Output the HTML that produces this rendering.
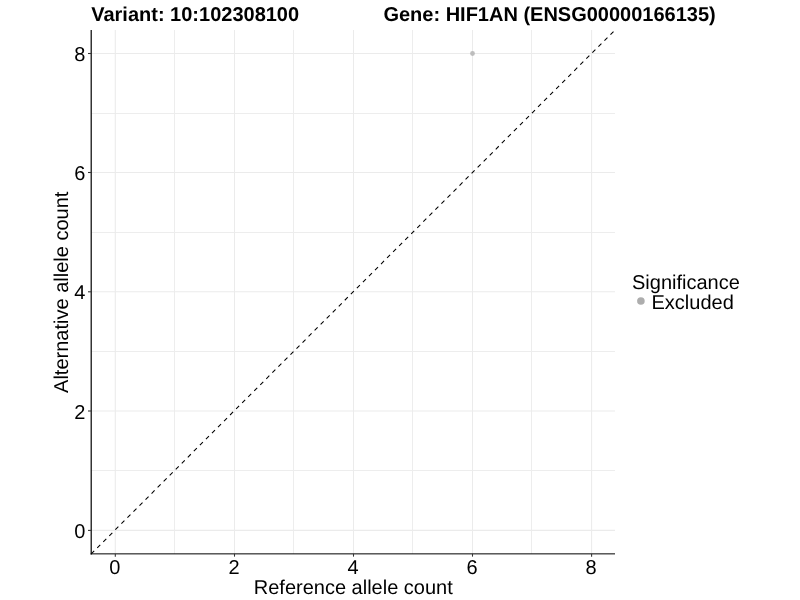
<!DOCTYPE html>
<html><head><meta charset="utf-8"><title>plot</title>
<style>
html,body{margin:0;padding:0;background:#fff;width:800px;height:600px;overflow:hidden}
svg{display:block;will-change:transform}
text{font-family:"Liberation Sans",Arial,Helvetica,sans-serif;font-size:20px;fill:#000;text-rendering:geometricPrecision}
.gm{stroke:#ededed;stroke-width:1}
.gM{stroke:#ebebeb;stroke-width:1.07}
.ax{stroke:#000;stroke-linecap:butt}
.tk{stroke:#333;stroke-width:1.07}
</style></head><body>
<svg width="800" height="600" viewBox="0 0 800 600">
<rect width="800" height="600" fill="#fff"/>
<line x1="174.5" y1="30.0" x2="174.5" y2="553.9" class="gm"/>
<line x1="293.5" y1="30.0" x2="293.5" y2="553.9" class="gm"/>
<line x1="412.5" y1="30.0" x2="412.5" y2="553.9" class="gm"/>
<line x1="531.5" y1="30.0" x2="531.5" y2="553.9" class="gm"/>
<line x1="91.2" y1="470.5" x2="615.0" y2="470.5" class="gm"/>
<line x1="91.2" y1="351.5" x2="615.0" y2="351.5" class="gm"/>
<line x1="91.2" y1="232.5" x2="615.0" y2="232.5" class="gm"/>
<line x1="91.2" y1="113.5" x2="615.0" y2="113.5" class="gm"/>
<line x1="115.3" y1="30.0" x2="115.3" y2="553.9" class="gM"/>
<line x1="234.5" y1="30.0" x2="234.5" y2="553.9" class="gM"/>
<line x1="353.5" y1="30.0" x2="353.5" y2="553.9" class="gM"/>
<line x1="472.5" y1="30.0" x2="472.5" y2="553.9" class="gM"/>
<line x1="591.6" y1="30.0" x2="591.6" y2="553.9" class="gM"/>
<line x1="91.2" y1="530.4" x2="615.0" y2="530.4" class="gM"/>
<line x1="91.2" y1="411.0" x2="615.0" y2="411.0" class="gM"/>
<line x1="91.2" y1="291.8" x2="615.0" y2="291.8" class="gM"/>
<line x1="91.2" y1="172.5" x2="615.0" y2="172.5" class="gM"/>
<line x1="91.2" y1="53.5" x2="615.0" y2="53.5" class="gM"/>
<circle cx="472.5" cy="53.5" r="2.4" fill="#bdbdbd"/>
<line x1="91.2" y1="553.9" x2="615.0" y2="30.0" stroke="#000" stroke-width="1.07" stroke-dasharray="4.27 4.27"/>
<line x1="91.2" y1="30.0" x2="91.2" y2="554.4499999999999" class="ax" stroke-width="1.2"/>
<line x1="90.60000000000001" y1="553.87" x2="615.0" y2="553.87" class="ax" stroke-width="1.0"/>
<line x1="88.00" y1="530.4" x2="91.20" y2="530.4" class="tk"/>
<line x1="115.3" y1="553.90" x2="115.3" y2="556.65" class="tk"/>
<text x="85.40" y="538.00" text-anchor="end">0</text>
<text x="114.85" y="573.7" text-anchor="middle">0</text>
<line x1="88.00" y1="411.0" x2="91.20" y2="411.0" class="tk"/>
<line x1="234.5" y1="553.90" x2="234.5" y2="556.65" class="tk"/>
<text x="85.40" y="418.60" text-anchor="end">2</text>
<text x="234.05" y="573.7" text-anchor="middle">2</text>
<line x1="88.00" y1="291.8" x2="91.20" y2="291.8" class="tk"/>
<line x1="353.5" y1="553.90" x2="353.5" y2="556.65" class="tk"/>
<text x="85.40" y="299.40" text-anchor="end">4</text>
<text x="353.05" y="573.7" text-anchor="middle">4</text>
<line x1="88.00" y1="172.5" x2="91.20" y2="172.5" class="tk"/>
<line x1="472.5" y1="553.90" x2="472.5" y2="556.65" class="tk"/>
<text x="85.40" y="180.10" text-anchor="end">6</text>
<text x="472.05" y="573.7" text-anchor="middle">6</text>
<line x1="88.00" y1="53.5" x2="91.20" y2="53.5" class="tk"/>
<line x1="591.6" y1="553.90" x2="591.6" y2="556.65" class="tk"/>
<text x="85.40" y="61.10" text-anchor="end">8</text>
<text x="591.15" y="573.7" text-anchor="middle">8</text>
<text x="353.3" y="593.75" text-anchor="middle">Reference allele count</text>
<text transform="translate(68.3 292.3) rotate(-90)" text-anchor="middle">Alternative allele count</text>
<text x="91.2" y="20.8" font-weight="bold">Variant: 10:102308100</text>
<text x="383.4" y="20.7" font-weight="bold">Gene: HIF1AN (ENSG00000166135)</text>
<text x="632" y="289.2">Significance</text>
<circle cx="640.9" cy="301" r="3.8" fill="#adadad"/>
<text x="651.5" y="308.75">Excluded</text>
</svg>
</body></html>
